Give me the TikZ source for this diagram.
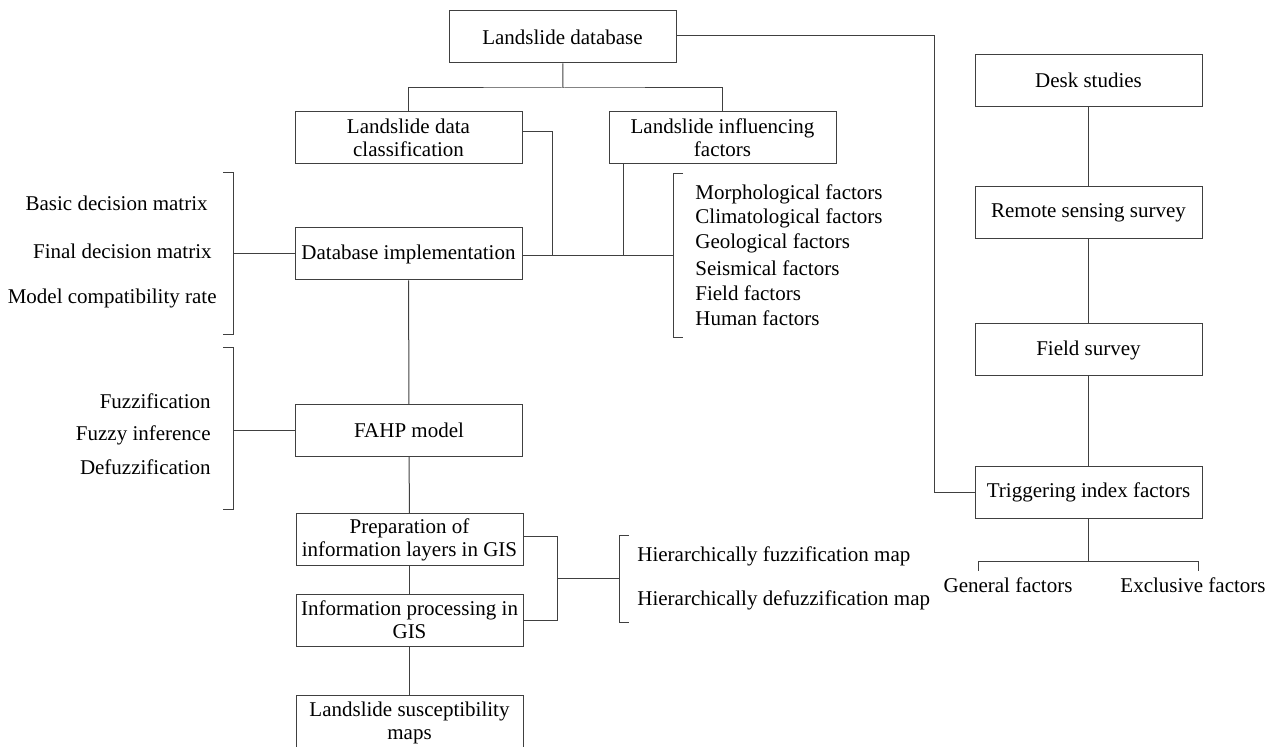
\documentclass[tikz,border=0pt]{standalone}
\usepackage{fontspec}
\setmainfont{Liberation Serif}
\tikzset{
  box/.style={draw=black!75, line width=0.5pt, fill=white, minimum width=113.5pt, minimum height=26pt, align=center, inner sep=1pt},
  link/.style={draw=black!75, line width=0.5pt}
}
\begin{document}
\begin{tikzpicture}[x=0.5pt,y=-0.5pt,font=\fontsize{10.5}{11.5}\selectfont]
\useasboundingbox (0,0) rectangle (1278,747);

% main column
\node[box] (db) at (562.5,37) {Landslide database};
\node[box] (cls) at (408.5,138) {Landslide data\\classification};
\node[box] (inf) at (722.5,138) {Landslide influencing\\factors};
\node[box] (impl) at (408.5,254) {Database implementation};
\node[box] (fahp) at (409,430.5) {FAHP model};
\node[box] (prep) at (409.5,539.5) {Preparation of\\information layers in GIS};
\node[box] (proc) at (409.5,620) {Information processing in\\GIS};
\node[box, minimum height=28pt] (susc) at (409.5,723) {Landslide susceptibility\\maps};

% right column
\node[box] (desk) at (1088.5,80.5) {Desk studies};
\node[box] (rss) at (1088.5,213) {Remote sensing survey};
\node[box] (field) at (1088.5,350) {Field survey};
\node[box] (trig) at (1088.5,492.5) {Triggering index factors};

\coordinate (split) at (563,88);
\draw[link] (db) -- (split);
\draw[link] (cls.north) |- (split) -| (inf.north);
\coordinate (j1) at (552,256);
\coordinate (j2) at (623,256);
\coordinate (fb) at (673,256);
\draw[link] ([yshift=3pt]cls.east) -| (j1);
\draw[link] (j2 |- inf.south) -- (j2);
\draw[link] (impl.east |- fb) -- (fb);
\draw[link] (683,174) -- (673,174) -- (673,338) -- (683,338);
\foreach \i/\t in {0/Morphological factors,1/Climatological factors,2/Geological factors,3/Seismical factors,4/Field factors,5/Human factors}
  \node[anchor=west, inner sep=0pt] (fac\i) at (695,194+24.8*\i) {\t};

% left brackets
\draw[link] (223,173) -- (233,173) -- (233,335) -- (223,335);
\draw[link] (impl.west) -- (233,254);
\node[anchor=east, inner sep=0pt] (bdm) at (208,203) {Basic decision matrix};
\node[anchor=east, inner sep=0pt] (fdm) at (212,251) {Final decision matrix};
\node[anchor=east, inner sep=0pt] (mcr) at (217,298) {Model compatibility rate};
\draw[link] (223,348) -- (233,348) -- (233,510) -- (223,510);
\draw[link] (fahp.west) -- (233,430.5);
\foreach \y/\t in {401/Fuzzification,435/Fuzzy inference,467/Defuzzification}
  \node[anchor=east, inner sep=0pt] at (211,\y) {\t};

\draw[link] (impl) -- (fahp);
\draw[link] (fahp) -- (prep);
\draw[link] (prep) -- (proc);
\draw[link] (proc) -- (susc);

% GIS maps
\coordinate (g1) at (557,579);
\draw[link] ([yshift=1.5pt]prep.east) -| (g1);
\draw[link] (proc.east) -| (g1);
\draw[link] (g1) -- (619,579);
\draw[link] (629,536) -- (619,536) -- (619,622) -- (629,622);
\node[anchor=west, inner sep=0pt] (hfm) at (637,556) {Hierarchically fuzzification map};
\node[anchor=west, inner sep=0pt] (hdm) at (637,600) {Hierarchically defuzzification map};

% right side
\coordinate (corner) at (934,36);
\draw[link] (db.east |- corner) -- (corner) |- (trig.west);
\draw[link] (desk) -- (rss);
\draw[link] (rss) -- (field);
\draw[link] (field) -- (trig);
\coordinate (t0) at (1088.5,562);
\draw[link] (trig) -- (t0);
\draw[link] (978,571) -- (978,562) -- (1198,562) -- (1198,571);
\node (gen) at (1008,585) {General factors};
\node (exc) at (1193,585) {Exclusive factors};
\end{tikzpicture}
\end{document}
